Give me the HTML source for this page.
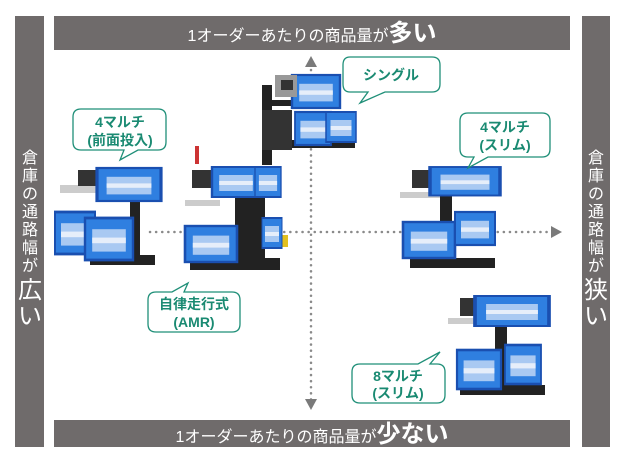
<!DOCTYPE html>
<html><head><meta charset="utf-8"><style>
body{margin:0;width:617px;height:465px;background:#fff;overflow:hidden;font-family:"Liberation Sans","Noto Sans CJK JP",sans-serif}
svg text{font-family:"Liberation Sans","Noto Sans CJK JP",sans-serif}
</style></head><body>
<svg width="617" height="465" viewBox="0 0 617 465">
<defs>
<g id="box"><rect x="0" y="0" width="40" height="30" fill="#2f7fe0" stroke="#1a4fb0" stroke-width="2"/><rect x="6" y="8" width="28" height="16" fill="#a9c9f2"/><rect x="6" y="14" width="28" height="4" fill="#e6eefa"/></g>
</defs>
<rect x="15" y="16" width="29" height="431" fill="#6f6b6b"/>
<rect x="582" y="16" width="28" height="431" fill="#6f6b6b"/>
<rect x="54" y="16" width="516" height="34" fill="#6f6b6b"/>
<rect x="54" y="420" width="516" height="27" fill="#6f6b6b"/>
<text x="312" y="41" fill="#fff" font-size="16" text-anchor="middle">1オーダーあたりの商品量が<tspan font-size="24" font-weight="bold">多い</tspan></text>
<text x="312" y="442" fill="#fff" font-size="16" text-anchor="middle">1オーダーあたりの商品量が<tspan font-size="24" font-weight="bold">少ない</tspan></text>
<g fill="#fff" font-size="16" text-anchor="middle">
<text x="30" y="163">倉</text><text x="30" y="181">庫</text><text x="30" y="199">の</text><text x="30" y="217">通</text><text x="30" y="235">路</text><text x="30" y="253">幅</text><text x="30" y="271">が</text>
<text x="30" y="298" font-size="24">広</text><text x="30" y="324" font-size="24">い</text>
<text x="596" y="163">倉</text><text x="596" y="181">庫</text><text x="596" y="199">の</text><text x="596" y="217">通</text><text x="596" y="235">路</text><text x="596" y="253">幅</text><text x="596" y="271">が</text>
<text x="596" y="298" font-size="24">狭</text><text x="596" y="324" font-size="24">い</text>
</g>
<g stroke="#8a8a8a" stroke-width="2.5" stroke-dasharray="0.1 6" stroke-linecap="round" fill="none">
<line x1="311" y1="70" x2="311" y2="402"/>
<line x1="150" y1="232" x2="552" y2="232"/>
</g>
<polygon points="311,56 305,67 317,67" fill="#7a7a7a"/>
<polygon points="311,410 305,399 317,399" fill="#7a7a7a"/>
<polygon points="562,232 551,226 551,238" fill="#7a7a7a"/>
<g>
<rect x="262" y="85" width="10" height="80" fill="#222"/><rect x="262" y="100" width="70" height="6" fill="#222"/><rect x="270" y="140" width="85" height="8" fill="#222"/><rect x="262" y="110" width="30" height="40" fill="#333"/>
<use href="#box" transform="translate(292,75) scale(1.2,1.1)"/>
<use href="#box" transform="translate(295,112) scale(0.9,1.1)"/><use href="#box" transform="translate(326,112) scale(0.75,1.0)"/>
<rect x="275" y="75" width="22" height="22" fill="#999"/><rect x="281" y="80" width="12" height="10" fill="#333"/>
<rect x="60" y="185" width="40" height="8" fill="#ccc"/><rect x="78" y="170" width="22" height="16" fill="#333"/>
<rect x="130" y="195" width="10" height="70" fill="#222"/><rect x="90" y="255" width="65" height="10" fill="#222"/>
<use href="#box" transform="translate(97,168) scale(1.6,1.1)"/>
<use href="#box" transform="translate(55,212) scale(1.0,1.4)"/><use href="#box" transform="translate(85,218) scale(1.2,1.4)"/>
<rect x="195" y="146" width="4" height="18" fill="#c33"/>
<rect x="192" y="170" width="22" height="18" fill="#333"/>
<rect x="185" y="200" width="35" height="6" fill="#ccc"/>
<rect x="235" y="195" width="30" height="65" fill="#222"/><rect x="190" y="258" width="90" height="12" fill="#222"/>
<rect x="278" y="235" width="10" height="12" fill="#e2c020"/>
<use href="#box" transform="translate(212,167) scale(1.2,1.0)"/><use href="#box" transform="translate(255,167) scale(0.65,1.0)"/>
<use href="#box" transform="translate(185,226) scale(1.3,1.2)"/><use href="#box" transform="translate(262,218) scale(0.5,1.0)"/>
<rect x="412" y="170" width="22" height="18" fill="#333"/><rect x="400" y="192" width="40" height="6" fill="#ccc"/>
<rect x="440" y="195" width="12" height="65" fill="#222"/><rect x="410" y="258" width="85" height="10" fill="#222"/>
<use href="#box" transform="translate(430,167) scale(1.75,0.95)"/>
<use href="#box" transform="translate(403,222) scale(1.3,1.2)"/><use href="#box" transform="translate(455,212) scale(1.0,1.1)"/>
<rect x="460" y="298" width="22" height="18" fill="#333"/><rect x="448" y="318" width="40" height="6" fill="#ccc"/>
<rect x="495" y="320" width="12" height="70" fill="#222"/><rect x="460" y="385" width="85" height="10" fill="#222"/>
<use href="#box" transform="translate(475,296) scale(1.85,1.0)"/>
<use href="#box" transform="translate(457,350) scale(1.1,1.3)"/><use href="#box" transform="translate(505,345) scale(0.9,1.3)"/>
</g>
<g fill="#fff" stroke="#1f8f78" stroke-width="1.3">
<path d="M350,57 H432 Q440,57 440,65 V84 Q440,92 432,92 H385 L360,103 L368,92 H350 Q343,92 343,84 V65 Q343,57 350,57 Z"/>
<path d="M81,109 H158 Q166,109 166,117 V142 Q166,150 158,150 H138 L120,160 L124,150 H81 Q73,150 73,142 V117 Q73,109 81,109 Z"/>
<path d="M468,113 H542 Q550,113 550,121 V149 Q550,157 542,157 H488 L468,168 L474,157 H468 Q460,157 460,149 V121 Q460,113 468,113 Z"/>
<path d="M156,292 H172 L188,283 L184,292 H232 Q240,292 240,300 V324 Q240,332 232,332 H156 Q148,332 148,324 V300 Q148,292 156,292 Z"/>
<path d="M360,364 H418 L440,352 L430,364 H437 Q445,364 445,372 V395 Q445,403 437,403 H360 Q352,403 352,395 V372 Q352,364 360,364 Z"/>
</g>
<g fill="#1a8a72" font-size="14" font-weight="bold" text-anchor="middle">
<text x="391" y="80">シングル</text>
<text x="120" y="127">4マルチ</text><text x="120" y="145">(前面投入)</text>
<text x="505" y="132">4マルチ</text><text x="505" y="150">(スリム)</text>
<text x="194" y="309">自律走行式</text><text x="194" y="327">(AMR)</text>
<text x="398" y="381">8マルチ</text><text x="398" y="398">(スリム)</text>
</g>
</svg>
</body></html>
